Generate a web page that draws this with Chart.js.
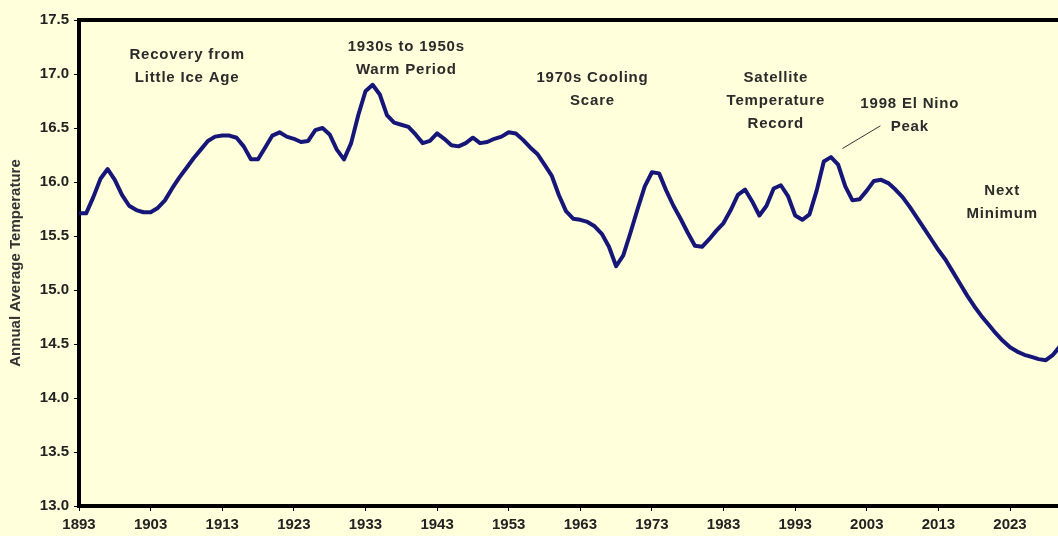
<!DOCTYPE html>
<html>
<head>
<meta charset="utf-8">
<title>Annual Average Temperature</title>
<script src="https://cdn.jsdelivr.net/npm/chart.js@4.4.1/dist/chart.umd.min.js"></script>
<style>
  html, body { margin: 0; padding: 0; background: #FFFFDC; }
  #grafico { display: block; }
</style>
</head>
<body>
<canvas id="grafico" width="1058" height="536"></canvas>
<script>
// Dados (anos e temperatura média anual)
const anos = [
    1893, 1894, 1895, 1896, 1897, 1898, 1899, 1900, 1901, 1902,
    1903, 1904, 1905, 1906, 1907, 1908, 1909, 1910, 1911, 1912,
    1913, 1914, 1915, 1916, 1917, 1918, 1919, 1920, 1921, 1922,
    1923, 1924, 1925, 1926, 1927, 1928, 1929, 1930, 1931, 1932,
    1933, 1934, 1935, 1936, 1937, 1938, 1939, 1940, 1941, 1942,
    1943, 1944, 1945, 1946, 1947, 1948, 1949, 1950, 1951, 1952,
    1953, 1954, 1955, 1956, 1957, 1958, 1959, 1960, 1961, 1962,
    1963, 1964, 1965, 1966, 1967, 1968, 1969, 1970, 1971, 1972,
    1973, 1974, 1975, 1976, 1977, 1978, 1979, 1980, 1981, 1982,
    1983, 1984, 1985, 1986, 1987, 1988, 1989, 1990, 1991, 1992,
    1993, 1994, 1995, 1996, 1997, 1998, 1999, 2000, 2001, 2002,
    2003, 2004, 2005, 2006, 2007, 2008, 2009, 2010, 2011, 2012,
    2013, 2014, 2015, 2016, 2017, 2018, 2019, 2020, 2021, 2022,
    2023, 2024, 2025, 2026, 2027, 2028, 2029, 2030
];
const temperaturas = [
    15.71, 15.71, 15.86, 16.03, 16.12, 16.02, 15.88, 15.78, 15.74, 15.72,
    15.72, 15.76, 15.83, 15.94, 16.04, 16.13, 16.22, 16.30, 16.38, 16.42,
    16.43, 16.43, 16.41, 16.33, 16.21, 16.21, 16.32, 16.43, 16.46, 16.42,
    16.40, 16.37, 16.38, 16.48, 16.50, 16.44, 16.30, 16.21, 16.36, 16.62,
    16.84, 16.90, 16.81, 16.62, 16.55, 16.53, 16.51, 16.44, 16.36, 16.38,
    16.45, 16.40, 16.34, 16.33, 16.36, 16.41, 16.36, 16.37, 16.40, 16.42,
    16.46, 16.45, 16.39, 16.32, 16.26, 16.16, 16.06, 15.88, 15.73, 15.66,
    15.65, 15.63, 15.59, 15.52, 15.40, 15.22, 15.32, 15.53, 15.75, 15.96,
    16.09, 16.08, 15.92, 15.78, 15.66, 15.53, 15.41, 15.40, 15.47, 15.55,
    15.62, 15.74, 15.88, 15.93, 15.82, 15.69, 15.78, 15.94, 15.97, 15.87,
    15.69, 15.65, 15.70, 15.92, 16.19, 16.23, 16.16, 15.96, 15.83, 15.84,
    15.92, 16.01, 16.02, 15.99, 15.93, 15.86, 15.77, 15.67, 15.57, 15.47,
    15.37, 15.28, 15.17, 15.06, 14.95, 14.85, 14.76, 14.68, 14.60, 14.53,
    14.47, 14.43, 14.40, 14.38, 14.36, 14.35, 14.40, 14.48
];

// Marcas dos eixos
const anosEixo = [1893, 1903, 1913, 1923, 1933, 1943, 1953, 1963, 1973, 1983, 1993, 2003, 2013, 2023];
const tempEixo = [13.0, 13.5, 14.0, 14.5, 15.0, 15.5, 16.0, 16.5, 17.0, 17.5];

// Textos do gráfico (posição em ano / temperatura)
const anotacoes = [
    { linhas: ['Recovery from', 'Little Ice Age'], ano: 1908.1, temp: 17.18 },
    { linhas: ['1930s to 1950s', 'Warm Period'], ano: 1938.7, temp: 17.25 },
    { linhas: ['1970s Cooling', 'Scare'], ano: 1964.7, temp: 16.96 },
    { linhas: ['Satellite', 'Temperature', 'Record'], ano: 1990.3, temp: 16.96 },
    { linhas: ['1998 El Nino', 'Peak'], ano: 2009.0, temp: 16.72 },
    { linhas: ['Next', 'Minimum'], ano: 2021.9, temp: 15.92 }
];
const setaElNino = [[1999.6, 16.31], [2004.9, 16.52]];

const fonte = '"Liberation Sans", Arial, sans-serif';

// Plugin para o quadro de cima e os textos
const anotacoesPlugin = {
    id: 'anotacoes',
    afterDraw(chart) {
        const ctx = chart.ctx;
        const x = chart.scales.x;
        const y = chart.scales.y;
        const area = chart.chartArea;
        ctx.save();

        ctx.strokeStyle = '#000';
        ctx.lineWidth = 4;
        ctx.beginPath();
        ctx.moveTo(area.left - 2, area.top);
        ctx.lineTo(area.right, area.top);
        ctx.stroke();

        ctx.strokeStyle = '#333';
        ctx.lineWidth = 1;
        ctx.beginPath();
        ctx.moveTo(x.getPixelForValue(setaElNino[0][0]), y.getPixelForValue(setaElNino[0][1]));
        ctx.lineTo(x.getPixelForValue(setaElNino[1][0]), y.getPixelForValue(setaElNino[1][1]));
        ctx.stroke();

        ctx.font = 'bold 15px ' + fonte;
        ctx.fillStyle = '#2b2b2b';
        ctx.textAlign = 'center';
        ctx.textBaseline = 'middle';
        ctx.letterSpacing = '0.8px';
        anotacoes.forEach(a => {
            a.linhas.forEach((txt, i) => {
                ctx.fillText(txt, x.getPixelForValue(a.ano), y.getPixelForValue(a.temp) + i * 23);
            });
        });
        ctx.restore();
    }
};

var ctxGrafico = document.getElementById('grafico').getContext('2d');
new Chart(ctxGrafico, {
    type: 'line',
    data: {
        datasets: [{
            label: 'Annual Average Temperature',
            data: anos.map((a, i) => ({ x: a, y: temperaturas[i] })),
            borderColor: '#161678',
            borderWidth: 4,
            borderJoinStyle: 'round',
            borderCapStyle: 'round',
            pointRadius: 0,
            tension: 0,
            fill: false
        }]
    },
    options: {
        responsive: false,
        animation: false,
        devicePixelRatio: 1,
        layout: { padding: { top: 20, left: 0, right: 0, bottom: 0 } },
        plugins: {
            legend: { display: false },
            tooltip: { enabled: false }
        },
        scales: {
            x: {
                type: 'linear',
                min: 1893,
                max: 2029.7,
                afterBuildTicks: scale => { scale.ticks = anosEixo.map(v => ({ value: v })); },
                afterFit: scale => { scale.height = 30; },
                grid: { drawOnChartArea: false, tickLength: 5, color: '#000', lineWidth: 1 },
                border: { display: true, color: '#000', width: 4 },
                ticks: {
                    autoSkip: false,
                    maxRotation: 0,
                    padding: 5,
                    color: '#222',
                    font: { family: fonte, size: 15, weight: 'bold' },
                    callback: v => String(v)
                }
            },
            y: {
                min: 13,
                max: 17.5,
                afterBuildTicks: scale => { scale.ticks = tempEixo.map(v => ({ value: v })); },
                afterFit: scale => { scale.width = 79; },
                grid: { drawOnChartArea: false, tickLength: 5, color: '#000', lineWidth: 1 },
                border: { display: true, color: '#000', width: 4 },
                ticks: {
                    padding: 5,
                    color: '#222',
                    font: { family: fonte, size: 15, weight: 'bold' },
                    callback: v => Number(v).toFixed(1)
                },
                title: {
                    display: true,
                    text: 'Annual Average Temperature',
                    color: '#333',
                    padding: { top: 7, bottom: 0 },
                    font: { family: fonte, size: 15, weight: 'bold' }
                }
            }
        }
    },
    plugins: [anotacoesPlugin]
});
</script>
</body>
</html>
